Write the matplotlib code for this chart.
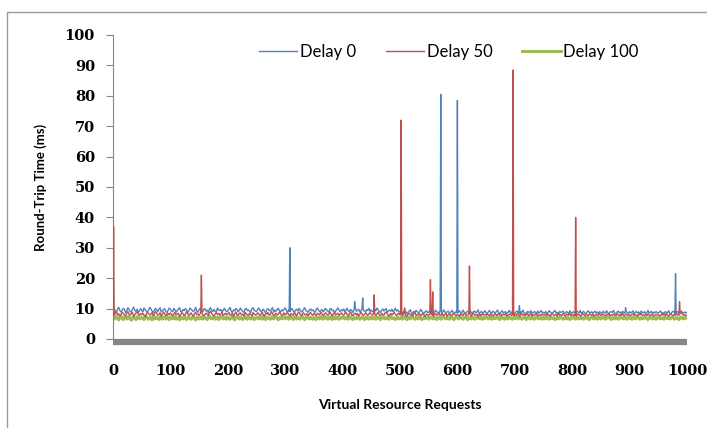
import matplotlib
matplotlib.use("Agg")
import matplotlib.pyplot as plt
from matplotlib.patches import Rectangle


def vals(s):
    return [float(v) for v in s.split()]


# request index of the baseline samples (every 2nd request)
requests = list(range(0, 1001, 2))

# baseline round-trip times (ms)
delay0_base = vals("""
9.6 10.2 9.1 8.7 9.9 10.4 9.3 8.9 9.5 10.1 9.8 8.6 9.2 10.3 9.7 9.0 8.8 9.9 10.5 9.4 9.1 9.8 8.7 9.3 10.0
9.5 8.9 10.2 9.7 9.1 8.8 9.6 10.4 9.9 9.2 8.7 9.4 10.1 9.6 9.0 9.8 10.3 8.9 9.3 9.7 10.0 9.1 8.6 9.5 10.2
9.8 9.2 9.0 10.1 9.5 8.8 9.4 9.9 10.3 9.1 8.9 9.7 9.3 10.0 9.6 8.7 9.2 10.2 9.8 9.4 9.0 9.5 10.4 9.1 8.8
9.6 10.1 9.3 8.9 9.7 10.0 9.2 9.5 8.6 9.9 10.3 9.4 9.0 9.8 9.1 8.8 10.2 9.6 9.3 9.7 8.9 9.4 10.1 9.5 9.0
9.2 9.9 10.4 9.1 8.7 9.6 9.3 10.0 9.7 8.9 9.4 10.2 9.5 9.0 8.8 9.8 10.1 9.3 9.6 9.1 8.7 9.9 10.3 9.4 9.2
9.0 9.7 10.2 9.5 8.9 9.3 9.8 9.1 8.6 9.6 10.0 9.4 9.2 9.9 10.3 8.8 9.5 9.1 9.7 10.1 9.3 8.9 9.6 9.2 9.8
10.2 9.4 8.8 9.6 9.1 9.9 10.0 9.3 8.7 9.5 9.8 9.2 10.1 9.6 8.9 9.0 9.7 10.3 9.4 9.1 8.8 9.5 9.9 9.3 9.6
9.1 8.7 9.8 10.2 9.5 9.0 9.3 9.7 8.9 9.4 10.1 9.6 9.2 8.8 9.9 10.0 9.3 9.5 8.6 9.2 9.8 10.2 9.4 9.0 9.6
9.3 9.9 8.8 9.5 10.1 9.2 9.0 9.7 9.4 8.7 9.6 10.3 9.1 9.5 9.8 8.9 9.3 10.0 9.6 9.2 8.8 9.7 9.4 10.1 9.0
9.5 9.1 8.9 9.8 9.3 10.2 9.6 9.0 8.7 9.4 9.9 9.2 9.7 10.0 8.8 9.3 9.5 9.1 9.8 8.9 9.4 10.1 9.2 9.6 9.0
8.9 9.3 8.5 8.8 9.5 9.0 8.4 8.7 9.2 9.6 8.6 8.3 9.1 8.8 9.4 9.0 8.5 8.9 9.7 9.2 8.6 8.4 9.0 9.3 8.7
8.8 9.4 9.1 8.5 8.2 8.9 9.5 9.0 8.6 8.8 9.3 8.4 8.7 9.6 9.1 8.5 8.9 9.2 8.3 8.6 9.4 9.0 8.7 8.5 9.1
8.6 9.0 9.3 8.4 8.8 9.5 8.7 8.2 8.9 9.1 8.5 9.4 8.8 8.3 9.0 9.2 8.6 8.9 9.6 8.4 8.7 9.1 8.5 8.8 9.3
8.7 8.3 9.0 9.4 8.6 8.5 9.2 8.8 8.4 9.1 9.5 8.7 8.2 8.9 9.3 8.6 8.8 9.0 8.3 8.7 9.4 8.9 8.5 9.1 8.6
8.4 8.9 9.2 8.6 8.3 9.0 8.7 9.5 8.8 8.5 8.2 9.1 8.9 8.6 9.3 8.4 8.7 9.0 8.8 8.3 9.2 8.5 8.9 9.4 8.6
8.8 8.5 9.1 8.3 8.7 9.3 8.9 8.4 8.6 9.0 9.4 8.5 8.8 8.2 9.1 8.7 8.9 9.2 8.4 8.6 9.0 8.8 8.3 9.3 8.7
8.5 9.0 8.7 8.3 9.2 8.9 8.6 9.4 8.4 8.8 9.1 8.5 8.2 8.9 9.3 8.7 8.6 9.0 8.4 8.8 9.2 8.5 8.9 8.3 9.0
8.7 8.4 9.1 8.8 8.5 9.3 8.6 8.2 8.9 9.0 8.7 9.4 8.5 8.3 8.8 9.2 8.6 8.9 8.4 9.1 8.7 8.5 9.0 8.8 8.3
9.0 8.6 8.8 9.3 8.4 8.7 9.1 8.5 8.9 8.2 9.2 8.8 8.6 9.0 8.4 8.7 9.4 8.5 8.8 9.1 8.3 8.9 8.6 9.0 8.7
8.5 8.9 9.2 8.4 8.7 8.3 9.0 8.8 8.6 9.3 8.5 8.2 8.9 9.1 8.7 8.4 8.8 9.0 8.6 8.3 9.2 8.7 8.5 8.9 8.6
8.8
""")
delay50_base = vals("""
8.2 7.7 8.6 8.9 7.9 8.3 7.5 8.1 8.8 8.4 7.8 7.6 8.5 9.0 8.2 7.9 8.3 8.7 7.4 8.0 8.6 8.9 8.1 7.7 8.4
8.0 8.5 7.8 7.3 8.2 8.8 8.4 7.9 8.1 8.7 7.6 8.3 9.1 8.5 7.8 8.0 8.6 7.5 8.2 8.9 8.3 7.7 8.1 8.4 7.9
8.6 8.1 7.6 8.3 8.8 7.9 8.2 8.5 7.4 8.0 8.7 8.3 7.8 8.1 9.0 8.4 7.7 8.2 8.6 7.9 7.5 8.3 8.8 8.0 8.2
7.8 8.4 8.9 8.1 7.6 8.0 8.5 8.2 7.7 8.6 9.1 8.3 7.9 7.5 8.2 8.7 8.0 8.4 7.8 8.3 8.8 7.6 8.1 8.5 7.9
8.3 8.7 7.8 8.0 8.5 7.4 8.2 8.9 8.1 7.7 8.4 8.6 7.9 8.2 7.6 8.8 8.3 8.0 7.8 8.5 8.1 7.5 8.7 8.2 7.9
8.1 8.6 8.3 7.7 8.0 8.8 7.9 7.5 8.4 8.2 8.7 7.8 8.1 9.0 8.3 7.6 8.0 8.5 7.9 8.2 8.9 8.4 7.7 8.0 8.6
7.9 8.3 8.8 8.0 7.6 8.4 8.1 7.8 8.7 8.2 7.5 8.5 8.9 8.1 7.7 8.3 8.6 7.9 8.0 8.4 7.6 8.2 8.8 8.1 7.8
8.4 8.0 7.7 8.5 8.2 7.9 8.8 8.3 7.6 8.1 8.6 8.4 7.8 8.0 8.9 8.2 7.5 8.3 8.7 7.9 8.1 8.5 7.7 8.2 8.6
8.0 7.8 8.4 8.7 8.1 7.6 8.3 8.9 8.0 7.7 8.2 8.5 7.9 8.4 7.5 8.1 8.8 8.3 7.8 8.0 8.6 8.2 7.6 8.4 8.7
8.1 7.9 8.5 8.2 7.7 8.3 8.8 8.0 7.6 8.4 8.1 7.8 8.6 8.9 8.2 7.5 8.0 8.4 7.9 8.3 8.7 8.1 7.7 8.2 8.5
7.9 8.3 7.6 8.1 8.6 7.8 7.4 8.2 8.5 7.9 8.0 7.5 8.4 8.7 7.7 8.1 7.9 8.3 7.6 8.0 8.5 7.8 7.4 8.2 8.0
7.7 8.2 8.5 7.9 7.5 8.1 8.4 7.8 8.0 8.6 7.6 7.9 8.3 7.7 8.1 8.5 7.4 8.0 8.2 7.8 7.6 8.4 8.1 7.9 7.7
8.1 7.8 7.5 8.3 8.0 7.7 8.5 8.2 7.6 7.9 8.4 8.0 7.5 8.2 8.6 7.8 7.9 8.1 7.4 8.3 8.0 7.7 8.4 7.9 8.1
7.8 8.2 8.0 7.6 8.4 7.9 7.5 8.1 8.3 7.7 8.0 8.5 7.8 7.6 8.2 8.0 7.9 8.4 7.5 7.8 8.1 8.3 7.7 8.0 7.6
8.0 7.7 8.3 8.1 7.5 7.9 8.4 7.8 8.2 7.6 8.0 8.5 7.7 7.9 8.3 7.5 8.1 7.8 8.2 8.4 7.6 7.9 8.0 7.7 8.3
7.9 8.1 7.6 8.4 7.8 8.0 7.5 8.2 8.3 7.7 7.9 8.1 7.6 8.5 7.8 8.0 7.7 8.3 7.9 7.5 8.2 8.0 7.8 8.4 7.6
8.1 7.8 8.0 7.6 8.3 7.9 8.2 7.5 7.8 8.4 8.0 7.7 8.1 7.9 7.6 8.3 8.0 7.8 8.2 7.5 7.9 8.1 7.7 8.0 8.3
7.7 8.0 8.2 7.8 7.5 8.1 7.9 8.4 7.6 8.0 7.8 8.2 7.9 7.6 8.3 8.0 7.7 8.1 7.8 8.4 7.5 7.9 8.2 7.8 8.0
7.9 7.6 8.1 8.3 7.7 8.0 7.8 7.5 8.2 7.9 8.4 7.7 8.0 7.8 8.1 7.6 8.3 7.9 7.7 8.0 8.2 7.5 7.8 8.1 7.9
8.0 7.8 7.6 8.2 7.9 8.1 7.7 8.4 7.8 7.5 8.0 8.2 7.9 7.6 8.1 7.8 8.3 8.0 7.7 8.5 9.0 8.2 7.8 8.0 7.7
7.9
""")
delay100_base = vals("""
6.9 6.5 7.2 7.4 6.7 6.3 7.0 7.5 6.8 6.4 7.1 7.3 6.6 6.9 7.6 6.5 6.2 7.0 7.2 6.8 6.4 7.3 7.0 6.6 6.9
7.1 6.7 6.4 7.3 7.5 6.8 6.5 7.0 7.2 6.3 6.9 7.4 6.6 7.1 6.8 6.4 7.2 7.0 6.5 7.3 6.9 6.6 7.5 6.7 6.4
7.0 7.3 6.6 6.8 7.4 6.5 6.9 7.1 6.3 7.2 6.8 6.6 7.5 7.0 6.4 6.9 7.3 6.7 6.5 7.1 7.4 6.8 6.3 7.0 7.2
6.6 6.9 7.3 6.5 7.0 7.2 6.7 6.4 7.1 7.5 6.8 6.6 7.0 7.3 6.5 6.9 7.2 6.4 6.8 7.4 7.0 6.6 6.9 7.1 6.5
7.2 6.8 6.5 7.0 7.4 6.7 6.3 7.1 7.3 6.9 6.6 7.2 6.8 6.4 7.0 7.5 6.7 6.5 7.3 7.0 6.6 6.9 7.2 6.4 6.8
7.0 7.3 6.6 6.9 7.1 6.5 7.4 6.8 6.4 7.2 7.0 6.7 6.5 7.3 6.9 6.6 7.1 7.4 6.8 6.3 7.0 7.2 6.6 6.9 7.3
6.7 7.0 7.2 6.5 6.8 7.4 6.9 6.4 7.1 7.3 6.6 6.8 7.0 6.5 7.2 7.5 6.7 6.4 7.0 7.3 6.8 6.6 7.1 6.9 6.5
7.1 6.8 6.4 7.2 7.0 6.6 7.3 6.9 6.5 7.0 7.4 6.7 6.5 7.1 6.8 7.2 6.4 6.9 7.3 6.6 7.0 7.2 6.5 6.8 7.1
6.9 7.2 6.6 6.8 7.3 6.5 7.0 7.4 6.7 6.4 7.1 6.9 6.6 7.2 7.0 6.5 6.8 7.3 6.9 6.4 7.1 7.0 6.7 6.5 7.2
7.0 6.6 7.3 6.9 6.5 7.1 7.2 6.7 6.4 7.0 7.3 6.8 6.6 7.1 6.9 6.5 7.2 7.4 6.7 6.8 7.0 6.4 6.9 7.2 6.6
6.8 7.1 6.5 7.0 7.3 6.7 6.4 6.9 7.2 6.6 7.0 7.4 6.8 6.5 7.1 6.9 6.6 7.3 7.0 6.4 6.8 7.2 6.7 6.9 7.1
6.5 7.0 7.2 6.8 6.6 7.3 6.9 6.4 7.1 7.0 6.7 6.5 7.2 7.4 6.8 6.6 7.0 6.9 6.5 7.3 7.1 6.7 6.4 7.0 7.2
6.9 6.6 7.1 7.3 6.7 6.5 7.0 7.2 6.8 6.4 7.1 6.9 6.6 7.3 7.0 6.5 6.8 7.2 6.9 6.7 7.4 6.6 6.5 7.1 6.8
7.0 7.2 6.6 6.9 7.3 6.5 6.8 7.1 6.7 7.0 7.4 6.6 6.4 7.0 7.2 6.8 6.5 7.1 6.9 6.6 7.3 7.0 6.7 6.5 7.1
6.7 6.9 7.3 6.6 7.0 7.2 6.5 6.8 7.1 6.9 6.4 7.0 7.3 6.7 6.6 7.2 6.9 6.5 7.0 7.4 6.8 6.6 7.1 6.9 6.5
7.2 6.8 6.6 7.1 7.0 6.5 7.3 6.9 6.7 7.0 6.4 6.8 7.2 6.6 7.1 7.3 6.7 6.5 6.9 7.0 6.6 7.2 6.8 6.4 7.0
6.8 7.1 6.9 6.5 7.2 7.0 6.6 6.8 7.3 6.7 6.5 7.1 6.9 7.2 6.6 6.4 7.0 7.3 6.8 6.6 7.1 6.9 6.5 7.2 7.0
6.6 7.0 7.2 6.7 6.5 7.1 6.9 7.3 6.8 6.4 7.0 7.2 6.6 6.9 7.1 6.5 6.8 7.3 7.0 6.7 6.6 7.1 6.9 6.5 7.2
7.0 6.7 6.5 7.2 6.9 6.6 7.1 7.3 6.8 6.5 7.0 6.9 6.6 7.2 7.0 6.7 6.4 7.1 6.9 7.3 6.6 6.8 7.0 6.5 7.1
6.9 7.2 6.6 6.8 7.0 6.5 7.1 6.9 6.7 7.3 6.6 6.8 7.2 7.0 6.5 6.9 7.1 6.7 6.4 7.0 7.2 6.8 6.6 7.1 6.9
6.8
""")

# single-request spikes (request, ms)
delay0_spike_x = [0, 308, 421, 435, 571, 600, 708, 893, 980]
delay0_spike_y = [40, 30, 12.3, 13.5, 80.5, 78.5, 11, 10.3, 21.5]
delay50_spike_x = [1, 154, 455, 502, 508, 553, 557, 621, 697, 806, 987]
delay50_spike_y = [37, 21, 14.5, 72, 10.2, 19.5, 15.5, 24, 88.5, 40, 12.3]


def merge(base, sx, sy):
    pts = dict(zip(requests, base))
    for x, y in zip(sx, sy):
        # neighbouring requests sit back on the band
        near = pts.get(2 * round(x / 2), base[0])
        for n in (x - 1, x + 1):
            if 0 <= n <= 1000 and n not in pts:
                pts[n] = near
        pts[x] = y
    xs = sorted(pts)
    return xs, [pts[k] for k in xs]


fig = plt.figure(figsize=(7.07, 4.28), dpi=100)
ax = fig.add_axes([113 / 707, 89 / 428, 574 / 707, 304 / 428])

# outer chart border (cut by the image edge on the right and bottom)
fig.patches.append(Rectangle((7 / 707, -0.1), 1.2, 416 / 428 + 0.1,
                             transform=fig.transFigure, fill=False,
                             edgecolor="#9a9a9a", linewidth=1.0))

x0, y0 = merge(delay0_base, delay0_spike_x, delay0_spike_y)
x50, y50 = merge(delay50_base, delay50_spike_x, delay50_spike_y)
ax.plot(requests, delay100_base, color="#9BBB59", linewidth=2.2, label="Delay 100", zorder=2)
ax.plot(x0, y0, color="#4F81BD", linewidth=1.0, label="Delay 0", zorder=3)
ax.plot(x50, y50, color="#C0504D", linewidth=1.0, label="Delay 50", zorder=4)

ax.set_xlim(0, 1000)
ax.set_ylim(0, 100)
ax.set_xticks(range(0, 1001, 100))
ax.set_yticks(range(0, 101, 10))

for s in ("top", "right"):
    ax.spines[s].set_visible(False)
ax.spines["left"].set_color("#868686")
ax.spines["bottom"].set_color("#868686")
ax.spines["bottom"].set_linewidth(4.5)
ax.spines["bottom"].set_position(("outward", 2.2))
ax.spines["bottom"].set_capstyle("butt")

ax.tick_params(axis="y", length=5, color="#868686", pad=8)
ax.tick_params(axis="x", length=0, pad=16)
for lab in ax.get_xticklabels() + ax.get_yticklabels():
    lab.set_fontfamily("DejaVu Serif")
    lab.set_fontweight("bold")
    lab.set_fontsize(10.5)

ax.set_xlabel("Virtual Resource Requests", fontfamily="Lato", fontweight="bold",
              fontsize=10, labelpad=15)
ax.set_ylabel("Round-Trip Time (ms)", fontfamily="Lato", fontweight="bold",
              fontsize=9.5, labelpad=13)

handles, labels = ax.get_legend_handles_labels()
order = [1, 2, 0]
ax.legend([handles[i] for i in order], [labels[i] for i in order],
          loc="upper center", bbox_to_anchor=(0.585, 1.02), ncol=3,
          frameon=False, handlelength=2.3, handletextpad=0.15,
          columnspacing=1.8, prop=dict(family="Lato", size=12))

fig.savefig("out.png", dpi=100)
